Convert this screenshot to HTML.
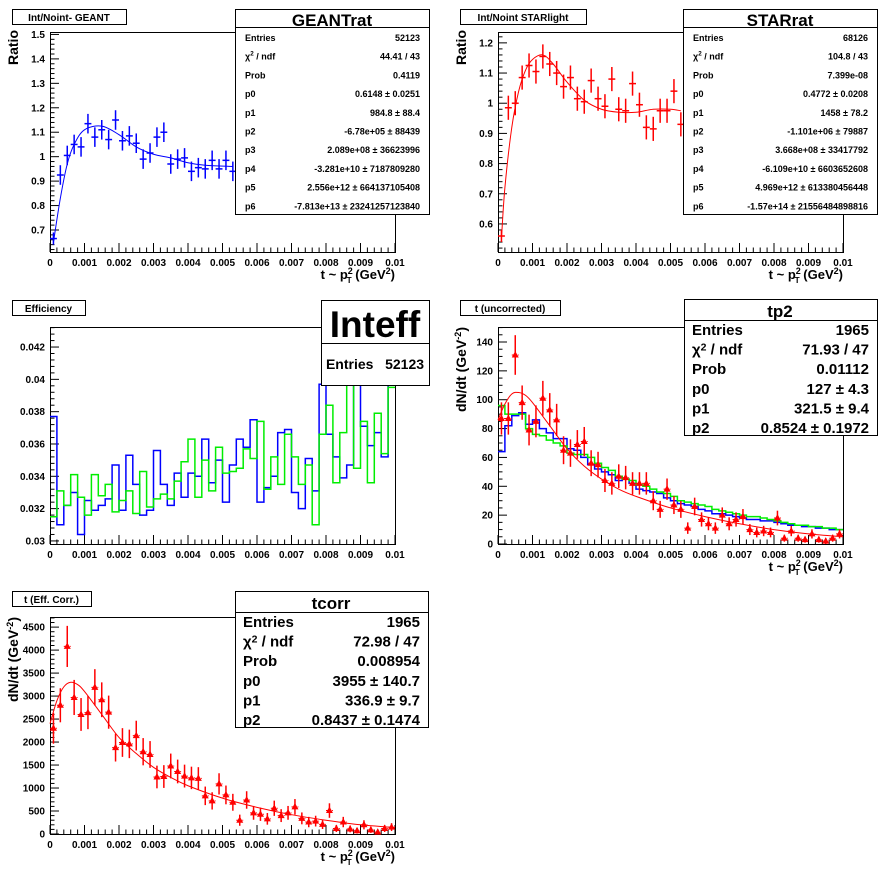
<!DOCTYPE html>
<html><head><meta charset="utf-8"><style>
html,body{margin:0;padding:0;background:#fff;}
svg{display:block;font-family:"Liberation Sans",sans-serif;font-weight:bold;}
</style></head><body>
<svg id="s" width="896" height="872" viewBox="0 0 896 872" xmlns="http://www.w3.org/2000/svg"></svg>
<script>
var S=document.getElementById('s');var out='';
function L(x1,y1,x2,y2,c,w){out+='<line x1="'+x1+'" y1="'+y1+'" x2="'+x2+'" y2="'+y2+'" stroke="'+(c||'#000')+'" stroke-width="'+(w||1)+'"/>';}
function T(x,y,t,sz,anc,extra){out+='<text x="'+x+'" y="'+y+'" font-size="'+sz+'" text-anchor="'+(anc||'start')+'" '+(extra||'')+'>'+t+'</text>';}
function R(x,y,w,h,sw){out+='<rect x="'+(x+.5)+'" y="'+(y+.5)+'" width="'+w+'" height="'+h+'" fill="#fff" stroke="#000" stroke-width="'+(sw||1)+'"/>';}
function cr(pts){
 var d='M'+pts[0][0]+','+pts[0][1];
 for(var i=0;i<pts.length-1;i++){var p0=pts[Math.max(0,i-1)],p1=pts[i],p2=pts[i+1],p3=pts[Math.min(pts.length-1,i+2)];
  d+=' C'+(p1[0]+(p2[0]-p0[0])/6)+','+(p1[1]+(p2[1]-p0[1])/6)+' '+(p2[0]-(p3[0]-p1[0])/6)+','+(p2[1]-(p3[1]-p1[1])/6)+' '+p2[0]+','+p2[1];}
 return d;}
function Pad(c){
 var X=function(v){return c.x0+(c.x1-c.x0)*v/0.01;};
 var Y=function(v){return c.y1-(c.y1-c.y0)*(v-c.ymin)/(c.ymax-c.ymin);};
 c.X=X;c.Y=Y;return c;}
function axes(c){
 out+='<rect x="'+(c.x0+.5)+'" y="'+(c.y0+.5)+'" width="'+(c.x1-c.x0)+'" height="'+(c.y1-c.y0)+'" fill="none" stroke="#000"/>';
 for(var i=0;i<=50;i++){var x=c.X(i*0.0002);var len=(i%5==0)?9:4.5;L(x,c.y1,x,c.y1-len);}
 for(var i=0;i<=10;i++){T(c.X(i*0.001),c.y1+14,i==0?'0':(i==10?'0.01':'0.00'+i),10,'middle');}
 var yt=c.yt;
 for(var v=yt.start;v<=c.ymax+1e-9;v+=yt.minor){var y=c.Y(v);if(y<c.y0-0.1)break;var maj=Math.abs(Math.round((v-yt.major0)/yt.major)*yt.major-(v-yt.major0))<yt.minor/10;L(c.x0,y,c.x0+(maj?9:4.5),y);}
 yt.labels.forEach(function(l){T(c.x0-5,c.Y(l[0])+3.5,l[1],10,'end');});
}
function xtitle(c){T(c.x1,c.y1+27,'t ~ p<tspan font-size="9" dy="-5">2</tspan><tspan font-size="8" dx="-6" dy="9">T</tspan><tspan dy="-4"> (GeV</tspan><tspan font-size="9" dy="-5">2</tspan><tspan dy="5">)</tspan>',13,'end');}
function ytitle(x,y,t){T(0,0,t,14,'end','transform="translate('+x+','+y+') rotate(-90)"');}
function crosses(c,vals,err,col){
 vals.forEach(function(v,i){var xc=0.0001+0.0002*i;var e=typeof err=='function'?err(v,i):err;
  L(c.X(xc-0.0001),c.Y(v),c.X(xc+0.0001),c.Y(v),col,1.5);
  L(c.X(xc),Math.max(c.y0,c.Y(v+e)),c.X(xc),Math.min(c.y1,c.Y(v-e)),col,1.5);});}
function stars(c,vals,err){
 vals.forEach(function(v,i){var xc=0.0001+0.0002*i;var e=err(v);var x=c.X(xc),y=c.Y(v);
  out+='<line x1="'+c.X(xc-0.0001)+'" y1="'+y+'" x2="'+c.X(xc+0.0001)+'" y2="'+y+'" stroke="red" stroke-width="1" stroke-dasharray="2,1"/>';
  L(x,Math.max(c.y0,c.Y(v+e)),x,Math.min(c.y1,c.Y(v-e)),'red',1.5);
  out+='<polygon points="'+x+','+(y-4)+' '+(x+3.5)+','+(y+2.5)+' '+(x-3.5)+','+(y+2.5)+'" fill="red"/>';});}
function hist(c,vals,col){
 var d='M'+c.X(0)+','+c.Y(vals[0]);
 vals.forEach(function(v,i){var y=Math.max(c.y0,Math.min(c.y1,c.Y(v)));d+=' L'+c.X(i*0.0002)+','+y+' L'+c.X((i+1)*0.0002)+','+y;});
 out+='<path d="'+d+'" fill="none" stroke="'+col+'" stroke-width="1.5"/>';}
function fit(c,pts,col){out+='<path d="'+cr(pts.map(function(p){return [c.X(p[0]),c.Y(p[1])];}))+'" fill="none" stroke="'+col+'" stroke-width="1"/>';}
function titlebox(x,y,w,t){R(x,y,w,15);T(x+w/2,y+12,t,10,'middle');}
function statsSmall(x,y,title,rows){
 R(x,y,194,205);L(x,y+18.5,x+194,y+18.5);T(x+97,y+17,title,17,'middle');
 rows.forEach(function(r,i){var yy=y+32+i*18.7;T(x+10,yy,r[0],9);T(x+185,yy,r[1],9,'end');});}
function statsBig(x,y,title,rows){
 R(x,y,193,136);L(x,y+21.5,x+193,y+21.5);T(x+96,y+18,title,17,'middle');
 rows.forEach(function(r,i){var yy=y+36+i*19.6;T(x+8,yy,r[0],15);T(x+185,yy,r[1],15,'end');});}
var chi='&#967;<tspan font-size="0.7em" dy="-4">2</tspan><tspan dy="4"> / ndf</tspan>';
var pm=' &#177; ';

var p1=Pad({x0:50,x1:395,y0:32,y1:252,ymin:0.61,ymax:1.51,yt:{start:0.62,minor:0.02,major:0.1,major0:0.6,labels:[[0.7,'0.7'],[0.8,'0.8'],[0.9,'0.9'],[1,'1'],[1.1,'1.1'],[1.2,'1.2'],[1.3,'1.3'],[1.4,'1.4'],[1.5,'1.5']]}});
axes(p1);
var d1=[0.665,0.925,1.005,1.05,1.04,1.135,1.08,1.11,1.07,1.15,1.065,1.085,1.055,0.99,1.015,1.08,1.10,0.97,0.99,0.995,0.94,0.955,0.95,0.985,0.95,0.985,0.94];
crosses(p1,d1,function(v,i){return i==0?0.025:0.04;},'blue');
fit(p1,[[0.0001,0.65],[0.0003,0.83],[0.0005,0.97],[0.0007,1.05],[0.001,1.11],[0.0015,1.125],[0.002,1.09],[0.0025,1.04],[0.003,1.01],[0.0035,0.995],[0.004,0.975],[0.0045,0.965],[0.0053,0.96]],'blue');
xtitle(p1);ytitle(18,30,'Ratio');
titlebox(12,9,114,'Int/Noint- GEANT');
statsSmall(235,9,'GEANTrat',[['Entries','52123'],[chi,'44.41 / 43'],['Prob','0.4119'],['p0','0.6148'+pm+'0.0251'],['p1','984.8'+pm+'88.4'],['p2','-6.78e+05'+pm+'88439'],['p3','2.089e+08'+pm+'36623996'],['p4','-3.281e+10'+pm+'7187809280'],['p5','2.556e+12'+pm+'664137105408'],['p6','-7.813e+13'+pm+'23241257123840']]);

var p2=Pad({x0:498,x1:843,y0:32,y1:252,ymin:0.507,ymax:1.236,yt:{start:0.52,minor:0.02,major:0.1,major0:0.6,labels:[[0.6,'0.6'],[0.7,'0.7'],[0.8,'0.8'],[0.9,'0.9'],[1,'1'],[1.1,'1.1'],[1.2,'1.2']]}});
axes(p2);
var d2=[0.56,0.985,1.0,1.085,1.125,1.105,1.155,1.13,1.10,1.055,1.085,1.015,1.005,1.075,1.015,0.99,1.08,0.98,0.975,1.065,0.995,0.92,0.915,0.975,0.975,1.04,0.93];
crosses(p2,d2,function(v,i){return i==0?0.02:0.04;},'red');
fit(p2,[[0.0001,0.55],[0.0002,0.72],[0.0004,0.92],[0.0006,1.04],[0.0008,1.11],[0.001,1.145],[0.0013,1.16],[0.0016,1.13],[0.002,1.07],[0.0025,1.01],[0.003,0.98],[0.0035,0.97],[0.004,0.97],[0.0045,0.98],[0.005,0.98],[0.0053,0.975]],'red');
xtitle(p2);ytitle(466,30,'Ratio');
titlebox(460,9,126,'Int/Noint STARlight');
statsSmall(683,9,'STARrat',[['Entries','68126'],[chi,'104.8 / 43'],['Prob','7.399e-08'],['p0','0.4772'+pm+'0.0208'],['p1','1458'+pm+'78.2'],['p2','-1.101e+06'+pm+'79887'],['p3','3.668e+08'+pm+'33417792'],['p4','-6.109e+10'+pm+'6603652608'],['p5','4.969e+12'+pm+'613380456448'],['p6','-1.57e+14'+pm+'21556484898816']]);

var p3=Pad({x0:50,x1:395,y0:327,y1:544,ymin:0.02981,ymax:0.04324,yt:{start:0.0300,minor:0.0004,major:0.002,major0:0.030,labels:[[0.03,'0.03'],[0.032,'0.032'],[0.034,'0.034'],[0.036,'0.036'],[0.038,'0.038'],[0.04,'0.04'],[0.042,'0.042']]}});
axes(p3);
var bl=[0.0377,0.0310,0.0322,0.0330,0.0304,0.0325,0.0319,0.0322,0.0326,0.0347,0.0319,0.0353,0.0335,0.0316,0.0319,0.0356,0.0335,0.0322,0.0342,0.0327,0.0342,0.0340,0.0363,0.0336,0.0350,0.0324,0.0347,0.0363,0.0358,0.0375,0.0324,0.0333,0.0340,0.0367,0.0369,0.0330,0.0320,0.0351,0.0331,0.0397,0.0366,0.0352,0.0339,0.0347,0.0410,0.0371,0.0359,0.0367,0.0352,0.0400];
var gr=[0.0315,0.0331,0.0322,0.0341,0.0327,0.0316,0.0341,0.0328,0.0335,0.0318,0.0325,0.0331,0.0317,0.0343,0.0321,0.0326,0.0329,0.0326,0.0337,0.0349,0.0363,0.0327,0.0350,0.0331,0.0358,0.0342,0.0343,0.0345,0.0357,0.0351,0.0374,0.0332,0.0352,0.0335,0.0366,0.0352,0.0335,0.0347,0.0310,0.0366,0.0384,0.0336,0.0367,0.0400,0.0345,0.0374,0.0336,0.0379,0.0354,0.0395];
hist(p3,bl,'blue');hist(p3,gr,'#00ee00');
titlebox(12,300,73,'Efficiency');
R(321,300,108,85);L(321,343.5,429,343.5);T(375,337,'Inteff',37,'middle');T(375,369,'Entries&#160;&#160;&#160;52123',14,'middle');

var p4=Pad({x0:498,x1:843,y0:327,y1:544,ymin:0,ymax:150.4,yt:{start:0,minor:5,major:20,major0:0,labels:[[0,'0'],[20,'20'],[40,'40'],[60,'60'],[80,'80'],[100,'100'],[120,'120'],[140,'140']]}});
axes(p4);
var bh=[64,82,89,91,83,86,80,77,73,73,66,65,60,55,52,50,48,44,45,42,38,37,36,35,32,30,28,27,26,24,23,21,21,20,19,18,17,17,16,16,15,14,13,13,12,12,11,11,10,10];
var gh=[96,90,90,90,80,76,75,72,70,68,63,62,62,60,56,53,51,47,45,44,41,40,38,36,35,33,30,29,28,27,26,24,23,22,21,20,19,19,18,17,16,15,14,13,13,12,12,11,11,10];
hist(p4,bh,'blue');hist(p4,gh,'#00ee00');
var d4=[87,87,131,98,79,85,101,93,86,65,63,69,71,56,55,44,42,47,46,42,42,42,30,24,38,27,24,11,26,17,14,11,20,14,17,19,10,8,9,8,18,4,9,4,3,7,3,2,4,7];
stars(p4,d4,function(v){return Math.max(2,Math.sqrt(v)*1.2);});
fit(p4,[[0,86],[0.0002,97],[0.0004,104],[0.0006,105],[0.0008,103],[0.001,98],[0.0015,82],[0.002,66],[0.0025,54],[0.003,45],[0.0035,38],[0.004,33],[0.005,25],[0.006,19],[0.007,14],[0.008,10],[0.009,7],[0.01,5]],'red');
xtitle(p4);ytitle(466,327,'dN/dt (GeV<tspan font-size="9" dy="-5">-2</tspan><tspan dy="5">)</tspan>');
titlebox(460,300,100,'t (uncorrected)');
statsBig(684,299,'tp2',[['Entries','1965'],[chi,'71.93 / 47'],['Prob','0.01112'],['p0','127'+pm+'4.3'],['p1','321.5'+pm+'9.4'],['p2','0.8524'+pm+'0.1972']]);

var p5=Pad({x0:50,x1:395,y0:617,y1:834,ymin:0,ymax:4720,yt:{start:0,minor:100,major:500,major0:0,labels:[[0,'0'],[500,'500'],[1000,'1000'],[1500,'1500'],[2000,'2000'],[2500,'2500'],[3000,'3000'],[3500,'3500'],[4000,'4000'],[4500,'4500']]}});
axes(p5);
var d5=[2300,2800,4080,2970,2600,2640,3190,2920,2650,1880,1990,1960,2140,1790,1730,1240,1250,1480,1360,1260,1220,1210,830,720,1090,850,690,300,740,460,430,330,560,400,460,590,340,260,280,210,510,120,260,110,70,200,90,40,120,150];
stars(p5,d5,function(v){return Math.max(60,Math.sqrt(v)*7);});
fit(p5,[[0,2400],[0.0002,2900],[0.0004,3200],[0.0006,3300],[0.0008,3250],[0.001,3100],[0.0015,2600],[0.002,2100],[0.0025,1750],[0.003,1450],[0.0035,1230],[0.004,1050],[0.005,780],[0.006,580],[0.007,420],[0.008,300],[0.009,200],[0.01,140]],'red');
xtitle(p5);ytitle(18,617,'dN/dt (GeV<tspan font-size="9" dy="-5">-2</tspan><tspan dy="5">)</tspan>');
titlebox(12,591,79,'t (Eff. Corr.)');
statsBig(235,591,'tcorr',[['Entries','1965'],[chi,'72.98 / 47'],['Prob','0.008954'],['p0','3955'+pm+'140.7'],['p1','336.9'+pm+'9.7'],['p2','0.8437'+pm+'0.1474']]);
S.innerHTML=out;
</script>
</body></html>
